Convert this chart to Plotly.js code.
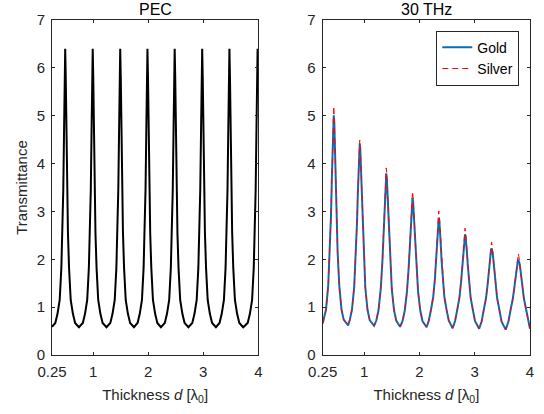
<!DOCTYPE html>
<html>
<head>
<meta charset="utf-8">
<script src="https://cdn.plot.ly/plotly-3.0.1.min.js"></script>
<style>html,body{margin:0;padding:0;background:#fff;}#chart{width:544px;height:414px;}</style>
</head>
<body>
<div id="chart"></div>
<script>
// ---- data ----
var panelTitles = ['PEC', '30 THz'];
var seriesNames = ['Gold', 'Silver'];
var xTickVals = [0.25, 1, 2, 3, 4];
var xTickLabels = ['0.25', '1', '2', '3', '4'];
var yTickVals = [0, 1, 2, 3, 4, 5, 6, 7];

var pecThickness = [
  0.25,
  0.31,0.35,0.39,0.42,0.44,0.455,0.47,0.48,0.49,0.50,0.51,0.525,0.54,0.56,0.59,0.63,0.67,0.74,
  0.81,0.85,0.89,0.92,0.94,0.955,0.97,0.98,0.99,1.00,1.01,1.025,1.04,1.06,1.09,1.13,1.17,1.24,
  1.31,1.35,1.39,1.42,1.44,1.455,1.47,1.48,1.49,1.50,1.51,1.525,1.54,1.56,1.59,1.63,1.67,1.74,
  1.805,1.845,1.885,1.915,1.935,1.95,1.965,1.975,1.985,1.995,2.005,2.02,2.035,2.055,2.085,2.125,2.165,2.23,
  2.30,2.34,2.38,2.41,2.43,2.445,2.46,2.47,2.48,2.49,2.50,2.515,2.53,2.55,2.58,2.62,2.66,2.73,
  2.80,2.84,2.88,2.91,2.93,2.945,2.96,2.97,2.98,2.99,3.00,3.015,3.03,3.05,3.08,3.12,3.16,3.23,
  3.295,3.335,3.375,3.405,3.425,3.44,3.455,3.465,3.475,3.485,3.495,3.51,3.525,3.545,3.575,3.615,3.655,3.725,
  3.807,3.847,3.887,3.917,3.937,3.952,3.967,3.977,3.987,4.00
];
var pecTransmittance = [
  0.59,
  0.67,0.86,1.15,1.82,2.55,3.45,4.75,5.80,6.40,5.80,4.75,3.45,2.55,1.82,1.15,0.86,0.67,0.58,
  0.67,0.86,1.15,1.82,2.55,3.45,4.75,5.80,6.40,5.80,4.75,3.45,2.55,1.82,1.15,0.86,0.67,0.58,
  0.67,0.86,1.15,1.82,2.55,3.45,4.75,5.80,6.40,5.80,4.75,3.45,2.55,1.82,1.15,0.86,0.67,0.58,
  0.67,0.86,1.15,1.82,2.55,3.45,4.75,5.80,6.40,5.80,4.75,3.45,2.55,1.82,1.15,0.86,0.67,0.58,
  0.67,0.86,1.15,1.82,2.55,3.45,4.75,5.80,6.40,5.80,4.75,3.45,2.55,1.82,1.15,0.86,0.67,0.58,
  0.67,0.86,1.15,1.82,2.55,3.45,4.75,5.80,6.40,5.80,4.75,3.45,2.55,1.82,1.15,0.86,0.67,0.58,
  0.67,0.86,1.15,1.82,2.55,3.45,4.75,5.80,6.40,5.80,4.75,3.45,2.55,1.82,1.15,0.86,0.67,0.58,
  0.67,0.86,1.15,1.82,2.55,3.45,4.75,5.80,6.40,5.80
];

var metalThickness = [
  0.25,
  0.27,0.31,0.35,0.38,0.40,0.415,0.43,0.44,0.45,0.46,0.47,0.485,0.50,0.52,0.55,0.59,0.63,0.71,
  0.74,0.78,0.82,0.85,0.87,0.885,0.90,0.91,0.92,0.93,0.94,0.955,0.97,0.99,1.02,1.06,1.10,1.18,
  1.22,1.26,1.30,1.33,1.35,1.365,1.38,1.39,1.40,1.41,1.42,1.435,1.45,1.47,1.50,1.54,1.58,1.65,
  1.695,1.735,1.775,1.805,1.825,1.84,1.855,1.865,1.875,1.885,1.895,1.91,1.925,1.945,1.975,2.015,2.055,2.13,
  2.17,2.21,2.25,2.28,2.30,2.315,2.33,2.34,2.35,2.36,2.37,2.385,2.40,2.42,2.45,2.49,2.53,2.60,
  2.645,2.685,2.725,2.755,2.775,2.79,2.805,2.815,2.825,2.835,2.845,2.86,2.875,2.895,2.925,2.965,3.005,3.08,
  3.125,3.165,3.205,3.235,3.255,3.27,3.285,3.295,3.305,3.315,3.325,3.34,3.355,3.375,3.405,3.445,3.485,3.56,
  3.61,3.65,3.69,3.72,3.74,3.755,3.77,3.78,3.79,3.80,3.81,3.825,3.84,3.86,3.89,3.93,3.97,4.00
];
var goldTransmittance = [
  0.66,
  0.74,0.95,1.45,2.15,2.90,3.65,4.45,4.85,5.01,4.85,4.45,3.65,2.90,2.15,1.45,0.95,0.74,0.62,
  0.73,0.95,1.42,2.08,2.75,3.35,3.98,4.30,4.42,4.30,3.98,3.35,2.75,2.08,1.42,0.95,0.73,0.61,
  0.72,0.94,1.38,1.95,2.50,2.97,3.45,3.70,3.79,3.70,3.45,2.97,2.50,1.95,1.38,0.94,0.72,0.59,
  0.71,0.93,1.33,1.82,2.27,2.66,3.02,3.21,3.28,3.21,3.02,2.66,2.27,1.82,1.33,0.93,0.71,0.58,
  0.72,0.95,1.22,1.59,1.98,2.32,2.66,2.81,2.87,2.81,2.66,2.32,1.98,1.59,1.22,0.95,0.72,0.56,
  0.71,0.95,1.21,1.55,1.87,2.13,2.37,2.48,2.52,2.48,2.37,2.13,1.87,1.55,1.21,0.95,0.71,0.55,
  0.70,0.95,1.19,1.49,1.75,1.96,2.13,2.20,2.23,2.20,2.13,1.96,1.75,1.49,1.19,0.95,0.70,0.53,
  0.70,0.95,1.18,1.44,1.64,1.80,1.92,1.97,1.99,1.97,1.92,1.80,1.64,1.44,1.18,0.95,0.70,0.55
];
var silverTransmittance = [
  0.66,
  0.74,0.95,1.45,2.15,2.90,3.67,4.51,4.96,5.20,4.96,4.51,3.67,2.90,2.15,1.45,0.95,0.74,0.62,
  0.73,0.95,1.42,2.08,2.75,3.36,4.00,4.34,4.49,4.34,4.00,3.36,2.75,2.08,1.42,0.95,0.73,0.61,
  0.72,0.94,1.38,1.95,2.50,2.98,3.49,3.77,3.91,3.77,3.49,2.98,2.50,1.95,1.38,0.94,0.72,0.59,
  0.71,0.93,1.33,1.82,2.27,2.67,3.06,3.29,3.42,3.29,3.06,2.67,2.27,1.82,1.33,0.93,0.71,0.58,
  0.72,0.95,1.22,1.59,1.98,2.33,2.70,2.89,3.01,2.89,2.70,2.33,1.98,1.59,1.22,0.95,0.72,0.56,
  0.71,0.95,1.21,1.55,1.87,2.14,2.41,2.56,2.65,2.56,2.41,2.14,1.87,1.55,1.21,0.95,0.71,0.55,
  0.70,0.95,1.19,1.49,1.75,1.97,2.17,2.28,2.36,2.28,2.17,1.97,1.75,1.49,1.19,0.95,0.70,0.53,
  0.70,0.95,1.18,1.44,1.64,1.81,1.96,2.05,2.12,2.05,1.96,1.81,1.64,1.44,1.18,0.95,0.70,0.55
];

// ---- chart ----
var FONT = '"Liberation Sans", Arial, Helvetica, sans-serif';
var AX = '#262626';

var traces = [
  {x: pecThickness, y: pecTransmittance, xaxis: 'x', yaxis: 'y', type: 'scatter', mode: 'lines',
   line: {color: '#000000', width: 2}, showlegend: false, hoverinfo: 'skip'},
  {x: metalThickness, y: goldTransmittance, xaxis: 'x2', yaxis: 'y2', type: 'scatter', mode: 'lines',
   name: seriesNames[0], line: {color: '#0072BD', width: 2}},
  {x: metalThickness, y: silverTransmittance, xaxis: 'x2', yaxis: 'y2', type: 'scatter', mode: 'lines',
   name: seriesNames[1], line: {color: '#FF0000', width: 1, dash: '6px,4px'}}
];

function xAxis(domain, anchor) {
  return {
    domain: domain, anchor: anchor, range: [0.25, 4],
    tickmode: 'array', tickvals: xTickVals, ticktext: xTickLabels,
    ticks: 'inside', ticklen: 3, tickwidth: 1, tickcolor: AX,
    showline: true, linecolor: AX, linewidth: 1, mirror: 'ticks',
    showgrid: false, zeroline: false, ticklabelstandoff: 3,
    tickfont: {family: FONT, size: 15, color: AX},
    title: {text: 'Thickness <i>d</i> [λ<sub>0</sub>]', font: {family: FONT, size: 15, color: AX}, standoff: 10}
  };
}
function yAxis(anchor, withTitle) {
  var a = {
    domain: [0, 1], anchor: anchor, range: [0, 7],
    tickmode: 'array', tickvals: yTickVals,
    ticks: 'inside', ticklen: 3, tickwidth: 1, tickcolor: AX,
    showline: true, linecolor: AX, linewidth: 1, mirror: 'ticks',
    showgrid: false, zeroline: false, ticklabelstandoff: 3,
    tickfont: {family: FONT, size: 15, color: AX}
  };
  if (withTitle) a.title = {text: 'Transmittance', font: {family: FONT, size: 15, color: AX}, standoff: 5};
  return a;
}

var leftDom = [0, 0.4316], rightDom = [0.5663, 1];
var layout = {
  width: 544, height: 414,
  margin: {l: 52, r: 14, t: 20, b: 59, pad: 0},
  paper_bgcolor: '#ffffff', plot_bgcolor: '#ffffff',
  font: {family: FONT, color: AX},
  xaxis: xAxis(leftDom, 'y'),
  yaxis: yAxis('x', true),
  xaxis2: xAxis(rightDom, 'y2'),
  yaxis2: yAxis('x2', false),
  showlegend: true,
  legend: {x: 0.9776, y: 0.968, xanchor: 'right', yanchor: 'top',
           bgcolor: '#ffffff', bordercolor: AX, borderwidth: 1,
           font: {family: FONT, size: 14, color: '#000000'}, tracegroupgap: 0},
  annotations: [
    {text: panelTitles[0], xref: 'paper', yref: 'paper', x: (leftDom[0] + leftDom[1]) / 2, y: 1.031,
     xanchor: 'center', yanchor: 'middle', showarrow: false, borderpad: 0,
     font: {family: FONT, size: 16, color: '#000000'}},
    {text: panelTitles[1], xref: 'paper', yref: 'paper', x: (rightDom[0] + rightDom[1]) / 2, y: 1.031,
     xanchor: 'center', yanchor: 'middle', showarrow: false, borderpad: 0,
     font: {family: FONT, size: 16, color: '#000000'}}
  ]
};

Plotly.newPlot('chart', traces, layout, {staticPlot: true, displayModeBar: false});
</script>
</body>
</html>
